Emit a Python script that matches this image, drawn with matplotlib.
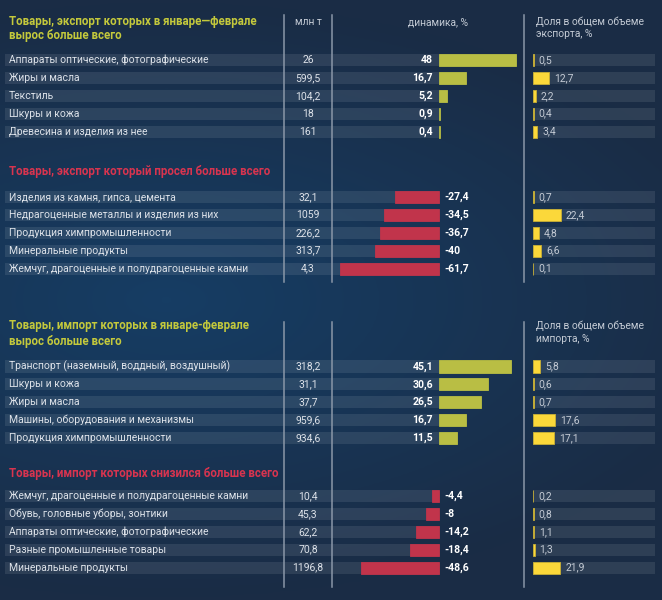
import numpy as np
import matplotlib
matplotlib.use('Agg')
import matplotlib.pyplot as plt
from matplotlib import transforms
from matplotlib.lines import Line2D
from matplotlib.colors import LinearSegmentedColormap

plt.rcParams['font.family'] = ['Roboto', 'DejaVu Sans']

# --- data ---
exp_up_names = ['Аппараты оптические, фотографические', 'Жиры и масла', 'Текстиль',
                'Шкуры и кожа', 'Древесина и изделия из нее']
exp_up_vol = [26, 599.5, 104.2, 18, 161]
exp_up_dyn = [48, 16.7, 5.2, 0.9, 0.4]
exp_up_share = [0.5, 12.7, 2.2, 0.4, 3.4]

exp_down_names = ['Изделия из камня, гипса, цемента', 'Недрагоценные металлы и изделия из них',
                  'Продукция химпромышленности', 'Минеральные продукты',
                  'Жемчуг, драгоценные и полудрагоценные камни']
exp_down_vol = [32.1, 1059, 226.2, 313.7, 4.3]
exp_down_dyn = [-27.4, -34.5, -36.7, -40, -61.7]
exp_down_share = [0.7, 22.4, 4.8, 6.6, 0.1]

imp_up_names = ['Транспорт (наземный, воддный, воздушный)', 'Шкуры и кожа', 'Жиры и масла',
                'Машины, оборудования и механизмы', 'Продукция химпромышленности']
imp_up_vol = [318.2, 31.1, 37.7, 959.6, 934.6]
imp_up_dyn = [45.1, 30.6, 26.5, 16.7, 11.5]
imp_up_share = [5.8, 0.6, 0.7, 17.6, 17.1]

imp_down_names = ['Жемчуг, драгоценные и полудрагоценные камни', 'Обувь, головные уборы, зонтики',
                  'Аппараты оптические, фотографические', 'Разные промышленные товары',
                  'Минеральные продукты']
imp_down_vol = [10.4, 45.3, 62.2, 70.8, 1196.8]
imp_down_dyn = [-4.4, -8, -14.2, -18.4, -48.6]
imp_down_share = [0.2, 0.8, 1.1, 1.3, 21.9]

# --- style ---
GREEN = '#b9be44'
RED = '#c1344b'
YELLOW = '#fbd83a'
TXT = '#dde2e9'
HEAD = '#c3cad4'
LINE = '#8a97a8'

W, H = 662, 600
PITCH = 17.9
DYN_L, DYN_R, ZERO, DYN_SCALE = 5, 530, 439, 1.6
SH_L, SH_R, SH_SCALE = 533, 655, 1.25


def fx(px):
    return px / W


def fy(py):
    return 1 - py / H


def fmt(v):
    return f'{v:g}'.replace('.', ',')


fig = plt.figure(figsize=(W / 100, H / 100), dpi=100)

# background gradient
bg = fig.add_axes([0, 0, 1, 1])
bg.axis('off')
yy, xx = np.mgrid[0:1:200j, 0:1:220j]
d = np.sqrt(((xx - 0.25) / 0.9) ** 2 + ((yy - 0.5) / 0.5) ** 2)
cmap = LinearSegmentedColormap.from_list('bg', ['#163d64', '#1a2c45'])
bg.imshow(np.clip(d, 0, 1), cmap=cmap, aspect='auto', extent=[0, 1, 0, 1])
bg.set_xlim(0, 1)
bg.set_ylim(0, 1)


def section(top, names, vol, dyn, share, color):
    n = len(names)
    rows = np.arange(n)
    y0 = top - PITCH / 2
    h = PITCH * n
    ax = fig.add_axes([fx(DYN_L), fy(y0 + h), fx(DYN_R - DYN_L), h / H])
    xmin = (DYN_L - ZERO) / DYN_SCALE
    xmax = (DYN_R - ZERO) / DYN_SCALE
    ax.set_xlim(xmin, xmax)
    ax.set_ylim(n - 0.5, -0.5)
    ax.axis('off')
    ax.barh(rows, -xmin, left=xmin, height=0.68, color='white', alpha=0.09, lw=0)
    ax.barh(rows, dyn, height=0.68, color=color, edgecolor=color, lw=0.6)
    tr = transforms.blended_transform_factory(fig.transFigure, ax.transData)
    for r in rows:
        ax.text(fx(9), r, names[r], transform=tr, ha='left', va='center',
                fontsize=7.45, color=TXT)
        ax.text(fx(308), r, fmt(vol[r]), transform=tr, ha='center', va='center',
                fontsize=7.5, color=TXT)
        if dyn[r] >= 0:
            ax.annotate(fmt(dyn[r]), (0, r), xytext=(-4.3, 0), textcoords='offset points',
                        ha='right', va='center', fontsize=7.6, fontweight='bold', color='white')
        else:
            ax.annotate(fmt(dyn[r]), (0, r), xytext=(3.6, 0), textcoords='offset points',
                        ha='left', va='center', fontsize=7.6, fontweight='bold', color='white')

    sx = fig.add_axes([fx(SH_L), fy(y0 + h), fx(SH_R - SH_L), h / H])
    smax = (SH_R - SH_L) / SH_SCALE
    sx.set_xlim(0, smax)
    sx.set_ylim(n - 0.5, -0.5)
    sx.axis('off')
    sx.barh(rows, smax, height=0.68, color='white', alpha=0.09, lw=0)
    sx.barh(rows, share, height=0.68, color=YELLOW, edgecolor='#c9b035', lw=0.6)
    for r in rows:
        sx.annotate(fmt(share[r]), (share[r], r), xytext=(3.5, 0), textcoords='offset points',
                    ha='left', va='center', fontsize=7.5, color=HEAD)


def title(y, text, color):
    fig.text(fx(9), fy(y), text, ha='left', va='center', fontsize=8.3,
             fontweight='bold', color=color)


def head(x, y, text, ha):
    fig.text(fx(x), fy(y), text, ha=ha, va='center', fontsize=7.4, color=HEAD)


def vline(x, y1, y2):
    fig.add_artist(Line2D([fx(x), fx(x)], [fy(y1), fy(y2)], transform=fig.transFigure,
                          color=LINE, lw=1.1))


# export block
for x in (284, 331.5, 524):
    vline(x, 15, 282)
    vline(x, 322, 587)

title(22, 'Товары, экспорт которых в январе—феврале', '#c4c93c')
title(36, 'вырос больше всего', '#c4c93c')
head(308, 22, 'млн т', 'center')
head(438, 22, 'динамика, %', 'center')
head(536, 22, 'Доля в общем объеме', 'left')
head(536, 34, 'экспорта, %', 'left')
section(60, exp_up_names, exp_up_vol, exp_up_dyn, exp_up_share, GREEN)

title(172, 'Товары, экспорт который просел больше всего', '#d8344f')
section(197, exp_down_names, exp_down_vol, exp_down_dyn, exp_down_share, RED)

# import block
title(326, 'Товары, импорт которых в январе-феврале', '#c4c93c')
title(341, 'вырос больше всего', '#c4c93c')
head(536, 326, 'Доля в общем объеме', 'left')
head(536, 339, 'импорта, %', 'left')
section(366.5, imp_up_names, imp_up_vol, imp_up_dyn, imp_up_share, GREEN)

title(473, 'Товары, импорт которых снизился больше всего', '#d8344f')
section(496, imp_down_names, imp_down_vol, imp_down_dyn, imp_down_share, RED)

fig.savefig('out.png', dpi=100)
